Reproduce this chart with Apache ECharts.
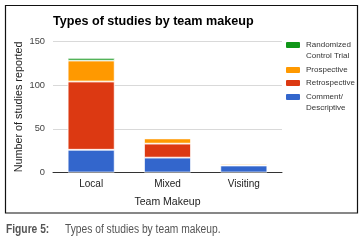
<!DOCTYPE html>
<html>
<head>
<meta charset="utf-8">
<script src="https://cdn.jsdelivr.net/npm/echarts@6/dist/echarts.min.js"></script>
<style>
    html, body { margin: 0; padding: 0; background: #fff; }
    #chart { width: 363px; height: 245px; }
</style>
</head>
<body>
<div id="chart"></div>
<script>
const categories = ["Local", "Mixed", "Visiting"];
const comment = [26, 17, 8];
const retrospective = [78, 16, 0];
const prospective = [24, 6, 2];
const randomized = [3, 0, 0];
const yTicks = [0, 50, 100, 150];

(function () {
    let chart = echarts.init(document.querySelector("#chart"));
    const font = "Arial, 'Liberation Sans', sans-serif";

    function bar(name, data, color) {
        return {
            name: name,
            type: "bar",
            stack: "all",
            barWidth: 47,
            data: data,
            itemStyle: { color: color, borderColor: "#fff", borderWidth: 0.8 }
        };
    }

    // one legend per row so each can sit where the reference has it;
    // a blank first line keeps the swatch level with the first text line
    function legendRow(name, top) {
        return {
            data: [name],
            left: 284,
            top: top,
            orient: "vertical",
            itemWidth: 16,
            itemHeight: 8,
            padding: 0,
            selectedMode: false,
            formatter: function (n) {
                return n.indexOf("\n") >= 0 ? " \n" + n : n;
            },
            textStyle: { fontFamily: font, fontSize: 8, color: "#333", lineHeight: 11 }
        };
    }

    let option = {
        animation: false,
        title: {
            text: "Types of studies by team makeup",
            left: 53,
            top: 15.5,
            padding: 0,
            textStyle: { fontFamily: font, fontSize: 12.6, fontWeight: "bold", color: "#000" }
        },
        grid: { left: 53, right: 81, top: 41.3, bottom: 72.5 },
        legend: [
            legendRow("Randomized\nControl Trial", 28.5),
            legendRow("Prospective", 64.5),
            legendRow("Retrospective", 77.5),
            legendRow("Comment/\nDescriptive", 80.5)
        ],
        xAxis: {
            type: "category",
            data: categories,
            name: "Team Makeup",
            nameLocation: "middle",
            nameGap: 24,
            nameTextStyle: { fontFamily: font, fontSize: 10.5, color: "#222" },
            axisLine: { lineStyle: { color: "#333", width: 1 } },
            axisTick: { show: false },
            axisLabel: { fontFamily: font, fontSize: 10, color: "#222", margin: 7 }
        },
        yAxis: {
            type: "value",
            min: yTicks[0],
            max: yTicks[yTicks.length - 1],
            interval: 50,
            name: "Number of studies reported",
            nameLocation: "middle",
            nameGap: 28,
            nameMoveOverlap: false,
            nameTextStyle: { fontFamily: font, fontSize: 10.8, color: "#222" },
            axisLine: { show: false },
            axisTick: { show: false },
            axisLabel: { fontFamily: font, fontSize: 9.3, color: "#444", margin: 8 },
            splitLine: { lineStyle: { color: "#d9d9d9", width: 1 } }
        },
        series: [
            bar("Comment/\nDescriptive", comment, "#3366cc"),
            bar("Retrospective", retrospective, "#dc3912"),
            bar("Prospective", prospective, "#ff9900"),
            bar("Randomized\nControl Trial", randomized, "#109618")
        ],
        graphic: [
            {
                type: "rect",
                shape: { x: 5.5, y: 5.5, width: 352, height: 207.5 },
                style: { fill: "none", stroke: "#111", lineWidth: 1.2 },
                silent: true
            },
            {
                type: "text",
                x: 6,
                y: 223,
                scaleX: 0.82,
                style: { text: "Figure 5:", font: "bold 12.5px " + font, fill: "#555" }
            },
            {
                type: "text",
                x: 65,
                y: 223,
                scaleX: 0.82,
                style: { text: "Types of studies by team makeup.", font: "12.5px " + font, fill: "#555" }
            }
        ]
    };

    chart.setOption(option);
})();
</script>
</body>
</html>
